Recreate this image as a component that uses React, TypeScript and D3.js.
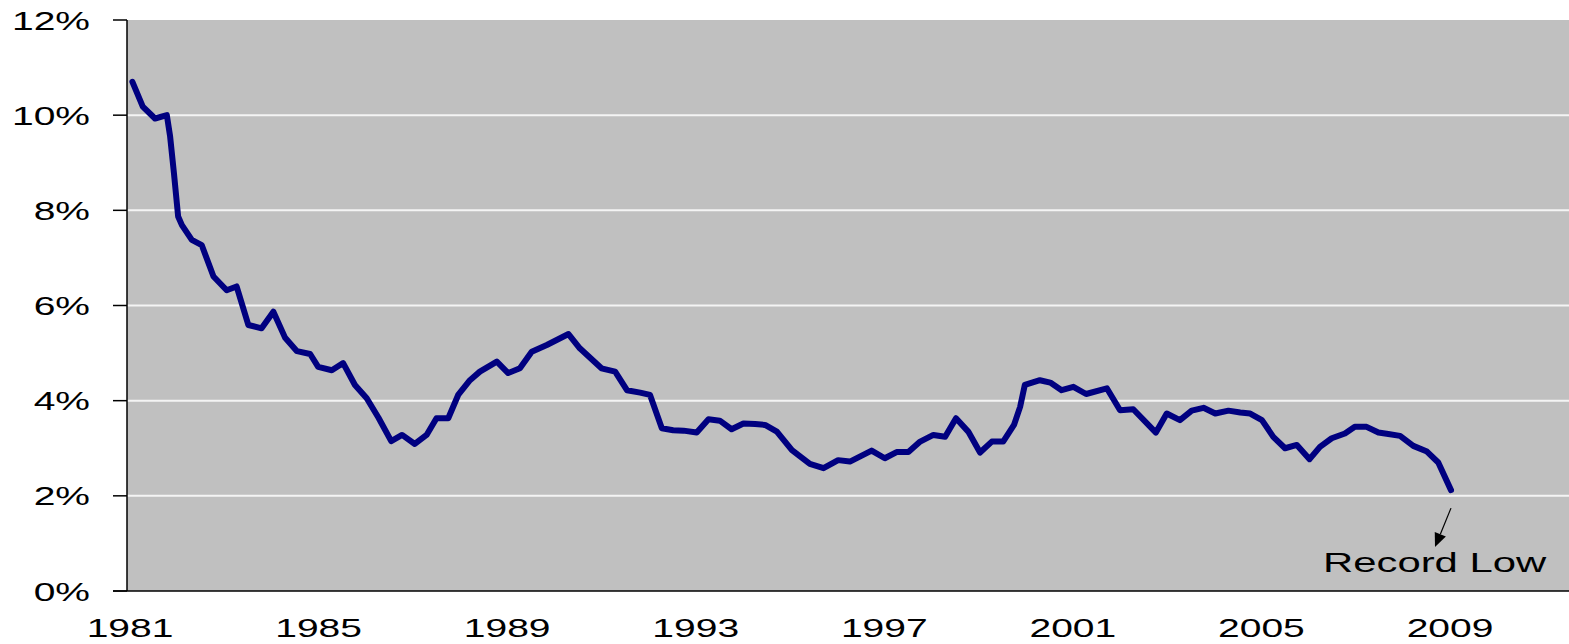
import React from "react";
import * as d3 from "d3";

// Data (year as decimal, value in %)
const years: number[] = [
  1981.03, 1981.25, 1981.51, 1981.76, 1981.83, 1981.91, 1982.0, 1982.08, 1982.29, 1982.5,
  1982.75, 1983.03, 1983.24, 1983.49, 1983.77, 1984.02, 1984.27, 1984.52, 1984.8, 1984.97,
  1985.26, 1985.5, 1985.75, 1986.0, 1986.25, 1986.52, 1986.75, 1987.02, 1987.27, 1987.48,
  1987.73, 1987.94, 1988.19, 1988.4, 1988.76, 1989.0, 1989.25, 1989.5, 1989.82, 1990.28,
  1990.52, 1990.98, 1991.27, 1991.52, 1991.8, 1992.01, 1992.26, 1992.5, 1992.72, 1993.0,
  1993.25, 1993.49, 1993.74, 1993.99, 1994.24, 1994.45, 1994.7, 1995.02, 1995.4, 1995.69,
  1996.0, 1996.25, 1996.71, 1996.99, 1997.24, 1997.49, 1997.74, 1998.02, 1998.27, 1998.5,
  1998.76, 1999.01, 1999.26, 1999.5, 1999.73, 1999.86, 1999.96, 2000.28, 2000.5, 2000.74,
  2000.99, 2001.26, 2001.7, 2001.98, 2002.26, 2002.74, 2002.97, 2003.25, 2003.5, 2003.75,
  2004.0, 2004.28, 2004.53, 2004.74, 2004.99, 2005.23, 2005.48, 2005.73, 2006.0, 2006.22,
  2006.47, 2006.75, 2006.96, 2007.21, 2007.46, 2007.67, 2007.92, 2008.2, 2008.49, 2008.73,
  2009.0,
];
const values: number[] = [
  10.7, 10.18, 9.93, 10.0, 9.55, 8.79, 7.87, 7.69, 7.38, 7.27,
  6.61, 6.32, 6.4, 5.59, 5.52, 5.87, 5.32, 5.04, 4.98, 4.71,
  4.64, 4.79, 4.33, 4.05, 3.64, 3.15, 3.28, 3.09, 3.28, 3.63,
  3.63, 4.12, 4.43, 4.61, 4.82, 4.58, 4.68, 5.03, 5.17, 5.4,
  5.1, 4.68, 4.61, 4.22, 4.17, 4.12, 3.42, 3.38, 3.37, 3.33,
  3.61, 3.58, 3.4, 3.52, 3.51, 3.49, 3.35, 2.96, 2.67, 2.58,
  2.75, 2.72, 2.95, 2.79, 2.92, 2.92, 3.14, 3.28, 3.24, 3.63,
  3.35, 2.91, 3.14, 3.14, 3.49, 3.87, 4.33, 4.43, 4.38, 4.22,
  4.29, 4.14, 4.26, 3.8, 3.82, 3.33, 3.73, 3.59, 3.79, 3.85,
  3.73, 3.79, 3.75, 3.73, 3.59, 3.24, 3.0, 3.07, 2.77, 3.03,
  3.21, 3.31, 3.45, 3.45, 3.33, 3.3, 3.26, 3.05, 2.93, 2.7,
  2.12,
];
const xTickYears: number[] = [1981, 1985, 1989, 1993, 1997, 2001, 2005, 2009];
const yTicks: number[] = [0, 2, 4, 6, 8, 10, 12];
const annotationText = "Record Low";

const W = 1569;
const H = 644;
const plotLeft = 127;
const plotRight = 1569;
const plotTop = 20;
const plotBottom = 591;
const FONT = "'Liberation Sans', Arial, sans-serif";
const SX = 1.5;

export default function App() {
  const x = d3.scaleLinear().domain([1981, 2009]).range([131, 1451]);
  const y = d3.scaleLinear().domain([0, 12]).range([plotBottom, plotTop]);
  const pts: [number, number][] = years.map((yr, i) => [yr, values[i]]);
  const line = d3
    .line<[number, number]>()
    .x((d) => x(d[0]))
    .y((d) => y(d[1]));

  const last = pts[pts.length - 1];
  const lx = x(last[0]);
  const ly = y(last[1]);
  const a0: [number, number] = [lx, ly + 18];
  const a1: [number, number] = [lx - 16, ly + 57];
  const ang = Math.atan2(a1[1] - a0[1], a1[0] - a0[0]);
  const ah = 14;
  const aw = 6;
  const base: [number, number] = [a1[0] - ah * Math.cos(ang), a1[1] - ah * Math.sin(ang)];
  const p1: [number, number] = [base[0] + aw * Math.sin(ang), base[1] - aw * Math.cos(ang)];
  const p2: [number, number] = [base[0] - aw * Math.sin(ang), base[1] + aw * Math.cos(ang)];

  return (
    <svg
      width={W}
      height={H}
      style={{ position: "absolute", left: 0, top: 0, background: "#fff" }}
    >
      <rect
        x={plotLeft}
        y={plotTop}
        width={plotRight - plotLeft}
        height={plotBottom - plotTop}
        fill="#c0c0c0"
      />
      {yTicks
        .filter((t) => t > 0 && t < 12)
        .map((t) => (
          <line
            key={"g" + t}
            x1={plotLeft}
            x2={plotRight}
            y1={y(t)}
            y2={y(t)}
            stroke="#f4f4f4"
            strokeWidth={2}
          />
        ))}
      <path
        d={line(pts) || ""}
        fill="none"
        stroke="#000080"
        strokeWidth={6}
        strokeLinejoin="round"
        strokeLinecap="round"
      />
      {/* axes */}
      <line x1={plotLeft} x2={plotLeft} y1={plotTop} y2={plotBottom} stroke="#000" strokeWidth={1.5} />
      <line x1={113} x2={plotRight} y1={plotBottom} y2={plotBottom} stroke="#000" strokeWidth={1.5} />
      {yTicks.map((t) => (
        <g key={"yt" + t}>
          <line x1={113} x2={plotLeft} y1={y(t)} y2={y(t)} stroke="#000" strokeWidth={1.5} />
          <text
            transform={`translate(90,${y(t) + 9.5}) scale(${SX},1)`}
            textAnchor="end"
            fontFamily={FONT}
            fontSize={26}
            fill="#000"
          >
            {t}%
          </text>
        </g>
      ))}
      {xTickYears.map((yr) => (
        <text
          key={"xt" + yr}
          transform={`translate(${x(yr) - 1},637) scale(${SX},1)`}
          textAnchor="middle"
          fontFamily={FONT}
          fontSize={26}
          fill="#000"
        >
          {yr}
        </text>
      ))}
      {/* annotation */}
      <line x1={a0[0]} y1={a0[1]} x2={base[0]} y2={base[1]} stroke="#000" strokeWidth={1.2} />
      <polygon points={[a1, p1, p2].map((p) => p.join(",")).join(" ")} fill="#000" />
      <text
        transform={`translate(1323,572) scale(1.55,1)`}
        textAnchor="start"
        fontFamily={FONT}
        fontSize={27}
        fill="#000"
      >
        {annotationText}
      </text>
    </svg>
  );
}
